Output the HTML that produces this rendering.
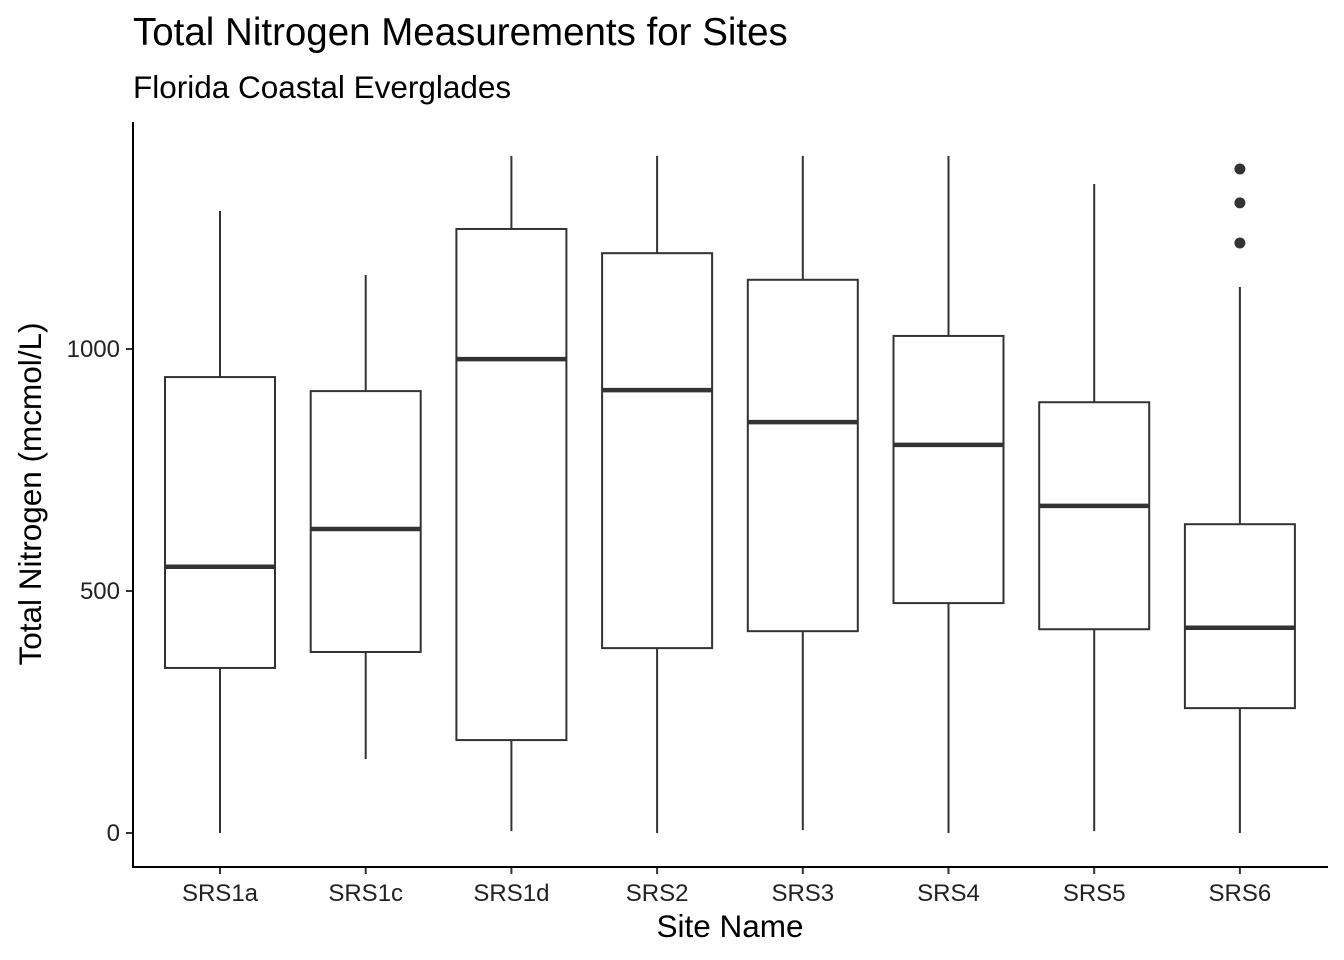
<!DOCTYPE html>
<html><head><meta charset="utf-8"><style>
body{margin:0;background:#fff;}
svg{display:block;font-family:"Liberation Sans",Arial,sans-serif;}
</style></head><body>
<svg id="chart" width="1344" height="960" viewBox="0 0 1344 960" xmlns="http://www.w3.org/2000/svg">
<text x="133" y="45" font-size="38.5" fill="#000">Total Nitrogen Measurements for Sites</text>
<text x="133" y="98" font-size="31.5" fill="#000">Florida Coastal Everglades</text>
<g id="plot"></g>
<line x1="133" y1="122" x2="133" y2="868" stroke="#000" stroke-width="2"/>
<line x1="132" y1="867" x2="1328" y2="867" stroke="#000" stroke-width="2"/>
<text x="730" y="937" font-size="31.5" text-anchor="middle" fill="#000">Site Name</text>
<text transform="translate(41,494) rotate(-90)" font-size="31.5" text-anchor="middle" fill="#000">Total Nitrogen (mcmol/L)</text>
</svg>
<script>
const categories=["SRS1a","SRS1c","SRS1d","SRS2","SRS3","SRS4","SRS5","SRS6"];
const whiskerLow=[0,153,4,0,6,0,4,0];
const q1=[341,374,192,382,417,475,421,258];
const median=[550,628,979,915,849,802,676,424];
const q3=[942,913,1248,1198,1143,1027,890,638];
const whiskerHigh=[1285,1153,1399,1399,1399,1399,1341,1128];
const outliers=[[],[],[],[],[],[],[],[1372,1302,1219]];
const yTicks=[0,500,1000];
const ns="http://www.w3.org/2000/svg";
const y=v=>833-v*0.484;
const x=i=>220+i*145.7;
const g=document.getElementById('plot');
function mk(t,a){const e=document.createElementNS(ns,t);for(const k in a)e.setAttribute(k,a[k]);g.appendChild(e);return e;}
yTicks.forEach(t=>{
 const l=mk('line',{x1:126,x2:133,y1:y(t),y2:y(t),stroke:'#333','stroke-width':2});
 
 
 const tx=mk('text',{x:120,y:y(t)+8,'font-size':24,'text-anchor':'end',fill:'#222'});
 tx.textContent=t;
 
 
});
categories.forEach((c,i)=>{
 const cx=x(i),w=55;
 const wl=mk('line',{x1:cx,x2:cx,y1:y(whiskerLow[i]),y2:y(q1[i]),stroke:'#333','stroke-width':2});
 
 
 const wh=mk('line',{x1:cx,x2:cx,y1:y(whiskerHigh[i]),y2:y(q3[i]),stroke:'#333','stroke-width':2});
 
 
 const b=mk('rect',{x:cx-w,y:y(q3[i]),width:2*w,height:y(q1[i])-y(q3[i]),fill:'#fff',stroke:'#333','stroke-width':2});
 
 
 const m=mk('line',{x1:cx-w,x2:cx+w,y1:y(median[i]),y2:y(median[i]),stroke:'#333','stroke-width':4.5});
 
 
 outliers[i].forEach(o=>{
  const p=mk('circle',{cx:cx,cy:y(o),r:5.5,fill:'#333'});
  
  
 });
 const tk=mk('line',{x1:cx,x2:cx,y1:867,y2:874,stroke:'#333','stroke-width':2});
 
 
 const t=mk('text',{x:cx,y:901,'font-size':24,'text-anchor':'middle',fill:'#222'});
 t.textContent=c;
 
 
});
</script>
</body></html>
